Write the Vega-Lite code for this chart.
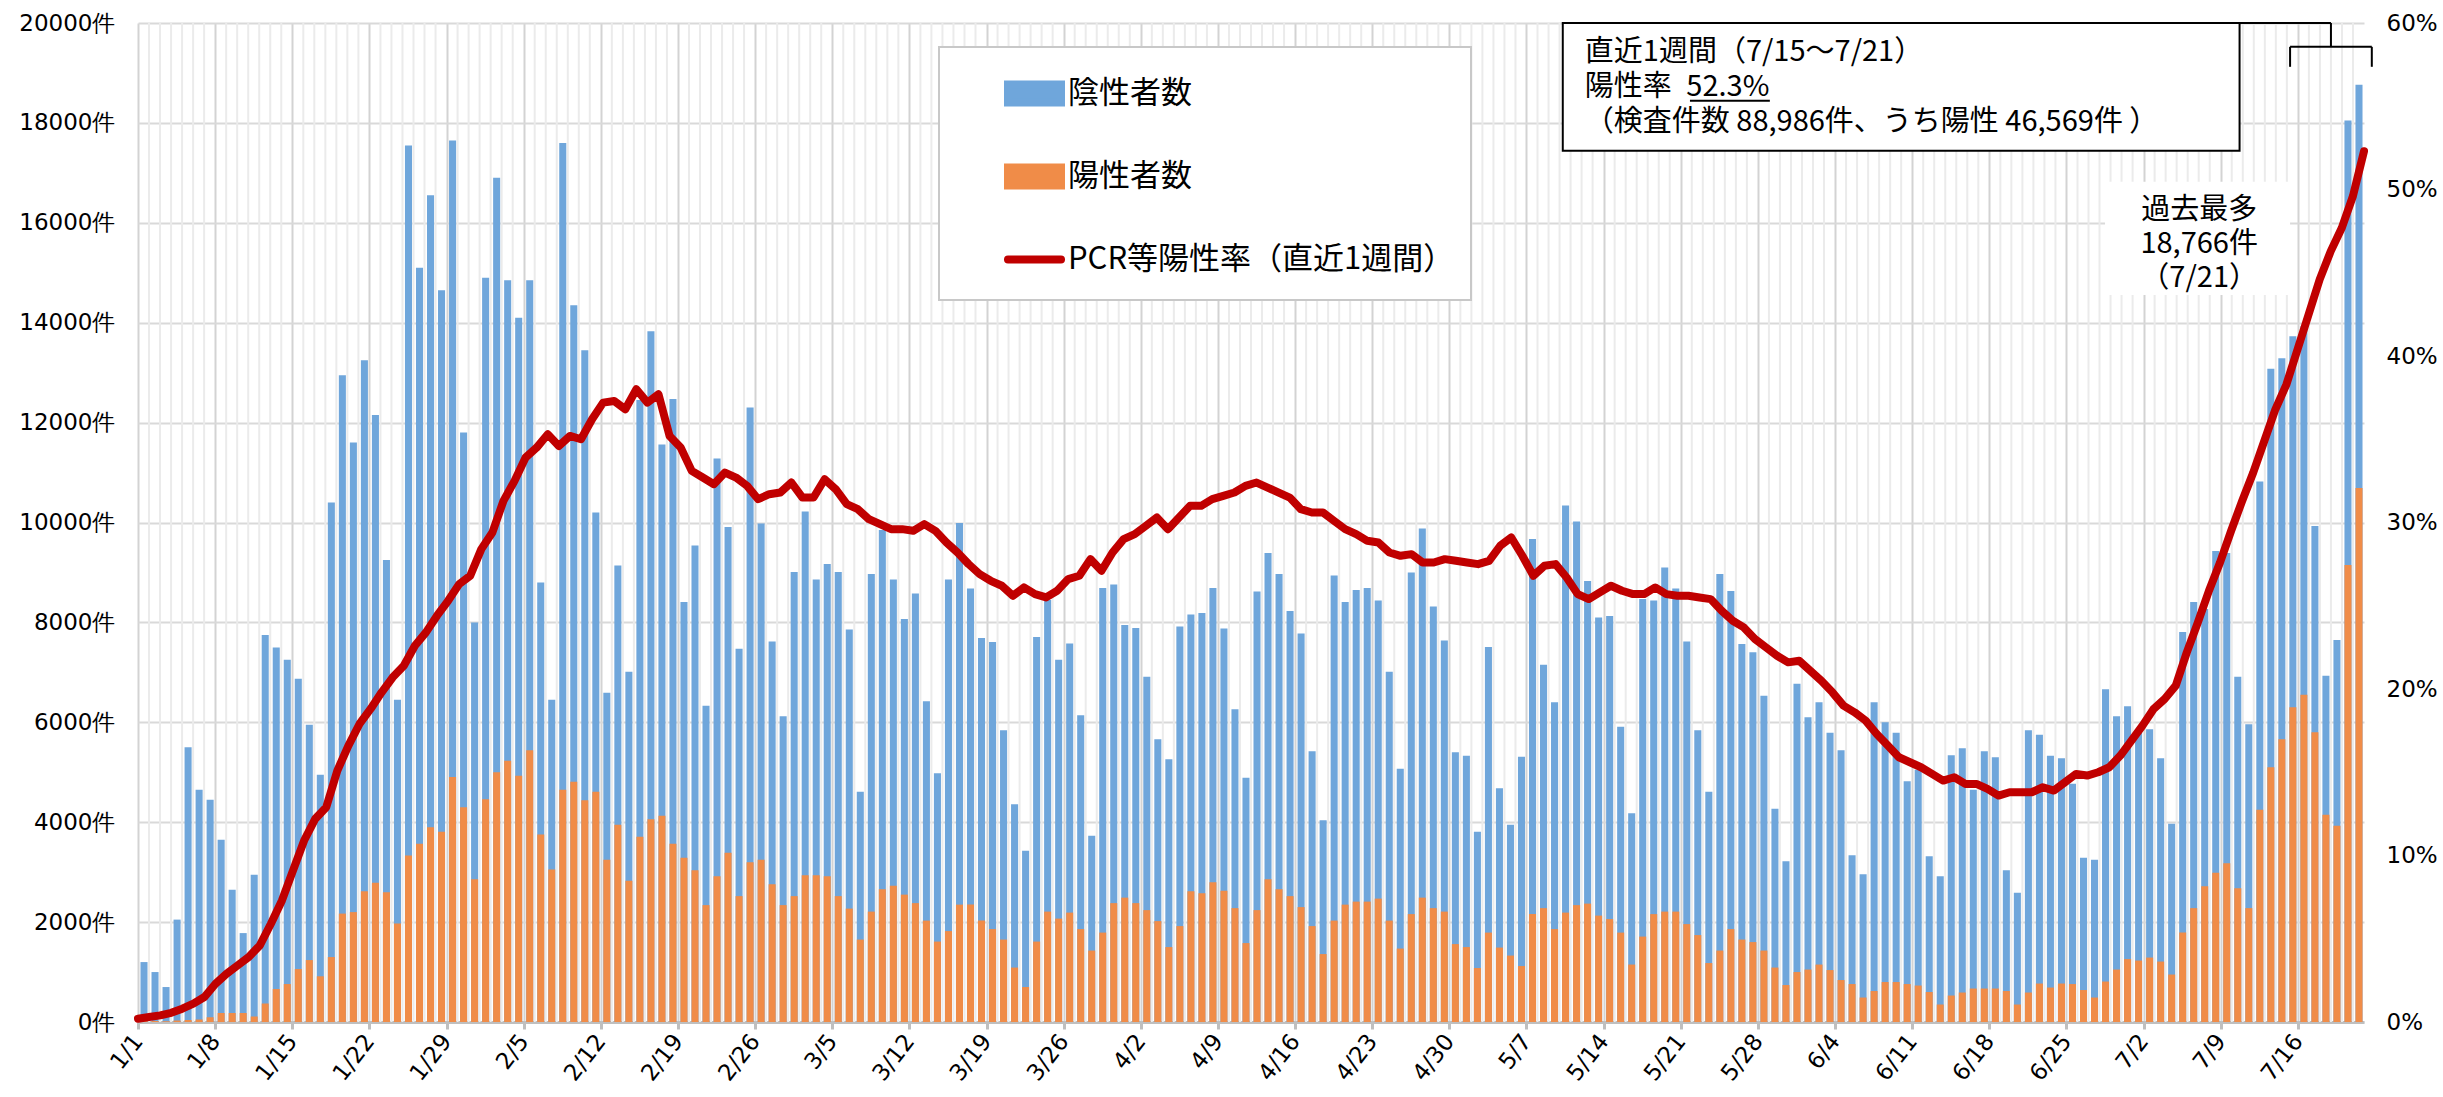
{
"$schema": "https://vega.github.io/schema/vega-lite/v6.json",
"width": 2226, "height": 999,
"autosize": "none",
"padding": {"left": 138, "top": 23, "right": 79, "bottom": 75},
"background": "white",
"config": {"font": "Noto Sans CJK JP", "view": {"stroke": null}},
"datasets": {
"main": [
{"date":"2022-01-01","total":1200,"positive":20,"rate":0.2},
{"date":"2022-01-02","total":1000,"positive":20,"rate":0.3},
{"date":"2022-01-03","total":700,"positive":15,"rate":0.4},
{"date":"2022-01-04","total":2050,"positive":30,"rate":0.55},
{"date":"2022-01-05","total":5500,"positive":40,"rate":0.8},
{"date":"2022-01-06","total":4650,"positive":50,"rate":1.1},
{"date":"2022-01-07","total":4450,"positive":95,"rate":1.5},
{"date":"2022-01-08","total":3650,"positive":180,"rate":2.3},
{"date":"2022-01-09","total":2650,"positive":180,"rate":2.9},
{"date":"2022-01-10","total":1780,"positive":180,"rate":3.4},
{"date":"2022-01-11","total":2950,"positive":110,"rate":3.9},
{"date":"2022-01-12","total":7750,"positive":370,"rate":4.6},
{"date":"2022-01-13","total":7500,"positive":660,"rate":5.9},
{"date":"2022-01-14","total":7250,"positive":760,"rate":7.3},
{"date":"2022-01-15","total":6870,"positive":1060,"rate":9.1},
{"date":"2022-01-16","total":5950,"positive":1240,"rate":10.9},
{"date":"2022-01-17","total":4950,"positive":915,"rate":12.2},
{"date":"2022-01-18","total":10400,"positive":1300,"rate":12.9},
{"date":"2022-01-19","total":12950,"positive":2170,"rate":15.1},
{"date":"2022-01-20","total":11600,"positive":2200,"rate":16.6},
{"date":"2022-01-21","total":13250,"positive":2620,"rate":17.9},
{"date":"2022-01-22","total":12150,"positive":2790,"rate":18.8},
{"date":"2022-01-23","total":9250,"positive":2600,"rate":19.8},
{"date":"2022-01-24","total":6450,"positive":1970,"rate":20.7},
{"date":"2022-01-25","total":17550,"positive":3335,"rate":21.4},
{"date":"2022-01-26","total":15100,"positive":3570,"rate":22.6},
{"date":"2022-01-27","total":16550,"positive":3900,"rate":23.4},
{"date":"2022-01-28","total":14650,"positive":3810,"rate":24.4},
{"date":"2022-01-29","total":17650,"positive":4905,"rate":25.3},
{"date":"2022-01-30","total":11800,"positive":4300,"rate":26.3},
{"date":"2022-01-31","total":8000,"positive":2860,"rate":26.8},
{"date":"2022-02-01","total":14900,"positive":4460,"rate":28.4},
{"date":"2022-02-02","total":16900,"positive":5000,"rate":29.4},
{"date":"2022-02-03","total":14850,"positive":5230,"rate":31.3},
{"date":"2022-02-04","total":14100,"positive":4930,"rate":32.5},
{"date":"2022-02-05","total":14850,"positive":5440,"rate":33.9},
{"date":"2022-02-06","total":8800,"positive":3755,"rate":34.5},
{"date":"2022-02-07","total":6450,"positive":3055,"rate":35.3},
{"date":"2022-02-08","total":17600,"positive":4650,"rate":34.6},
{"date":"2022-02-09","total":14350,"positive":4810,"rate":35.2},
{"date":"2022-02-10","total":13450,"positive":4440,"rate":35.0},
{"date":"2022-02-11","total":10200,"positive":4610,"rate":36.2},
{"date":"2022-02-12","total":6590,"positive":3250,"rate":37.2},
{"date":"2022-02-13","total":9140,"positive":3950,"rate":37.3},
{"date":"2022-02-14","total":7010,"positive":2830,"rate":36.8},
{"date":"2022-02-15","total":12450,"positive":3710,"rate":38.0},
{"date":"2022-02-16","total":13830,"positive":4060,"rate":37.2},
{"date":"2022-02-17","total":11560,"positive":4130,"rate":37.7},
{"date":"2022-02-18","total":12470,"positive":3570,"rate":35.2},
{"date":"2022-02-19","total":8410,"positive":3290,"rate":34.5},
{"date":"2022-02-20","total":9540,"positive":3040,"rate":33.1},
{"date":"2022-02-21","total":6330,"positive":2340,"rate":32.7},
{"date":"2022-02-22","total":11280,"positive":2920,"rate":32.3},
{"date":"2022-02-23","total":9910,"positive":3390,"rate":33.0},
{"date":"2022-02-24","total":7470,"positive":2520,"rate":32.7},
{"date":"2022-02-25","total":12300,"positive":3200,"rate":32.2},
{"date":"2022-02-26","total":9980,"positive":3250,"rate":31.4},
{"date":"2022-02-27","total":7620,"positive":2760,"rate":31.7},
{"date":"2022-02-28","total":6120,"positive":2340,"rate":31.8},
{"date":"2022-03-01","total":9010,"positive":2520,"rate":32.4},
{"date":"2022-03-02","total":10220,"positive":2940,"rate":31.5},
{"date":"2022-03-03","total":8860,"positive":2940,"rate":31.5},
{"date":"2022-03-04","total":9170,"positive":2920,"rate":32.6},
{"date":"2022-03-05","total":9010,"positive":2520,"rate":32.0},
{"date":"2022-03-06","total":7860,"positive":2270,"rate":31.1},
{"date":"2022-03-07","total":4610,"positive":1650,"rate":30.8},
{"date":"2022-03-08","total":8970,"positive":2210,"rate":30.2},
{"date":"2022-03-09","total":9850,"positive":2660,"rate":29.9},
{"date":"2022-03-10","total":8860,"positive":2730,"rate":29.6},
{"date":"2022-03-11","total":8070,"positive":2550,"rate":29.6},
{"date":"2022-03-12","total":8580,"positive":2380,"rate":29.5},
{"date":"2022-03-13","total":6420,"positive":2030,"rate":29.9},
{"date":"2022-03-14","total":4980,"positive":1610,"rate":29.5},
{"date":"2022-03-15","total":8860,"positive":1820,"rate":28.8},
{"date":"2022-03-16","total":9990,"positive":2350,"rate":28.2},
{"date":"2022-03-17","total":8680,"positive":2350,"rate":27.5},
{"date":"2022-03-18","total":7690,"positive":2030,"rate":26.9},
{"date":"2022-03-19","total":7610,"positive":1860,"rate":26.5},
{"date":"2022-03-20","total":5840,"positive":1650,"rate":26.2},
{"date":"2022-03-21","total":4360,"positive":1090,"rate":25.6},
{"date":"2022-03-22","total":3430,"positive":700,"rate":26.1},
{"date":"2022-03-23","total":7710,"positive":1610,"rate":25.7},
{"date":"2022-03-24","total":8450,"positive":2210,"rate":25.5},
{"date":"2022-03-25","total":7250,"positive":2070,"rate":25.9},
{"date":"2022-03-26","total":7580,"positive":2190,"rate":26.6},
{"date":"2022-03-27","total":6140,"positive":1860,"rate":26.8},
{"date":"2022-03-28","total":3730,"positive":1430,"rate":27.8},
{"date":"2022-03-29","total":8690,"positive":1790,"rate":27.1},
{"date":"2022-03-30","total":8760,"positive":2380,"rate":28.2},
{"date":"2022-03-31","total":7950,"positive":2490,"rate":29.0},
{"date":"2022-04-01","total":7890,"positive":2380,"rate":29.3},
{"date":"2022-04-02","total":6910,"positive":2240,"rate":29.8},
{"date":"2022-04-03","total":5660,"positive":2020,"rate":30.3},
{"date":"2022-04-04","total":5260,"positive":1500,"rate":29.6},
{"date":"2022-04-05","total":7920,"positive":1920,"rate":30.3},
{"date":"2022-04-06","total":8160,"positive":2620,"rate":31.0},
{"date":"2022-04-07","total":8190,"positive":2580,"rate":31.0},
{"date":"2022-04-08","total":8690,"positive":2800,"rate":31.4},
{"date":"2022-04-09","total":7880,"positive":2630,"rate":31.6},
{"date":"2022-04-10","total":6260,"positive":2280,"rate":31.8},
{"date":"2022-04-11","total":4890,"positive":1580,"rate":32.2},
{"date":"2022-04-12","total":8620,"positive":2240,"rate":32.4},
{"date":"2022-04-13","total":9390,"positive":2860,"rate":32.1},
{"date":"2022-04-14","total":8970,"positive":2660,"rate":31.8},
{"date":"2022-04-15","total":8230,"positive":2520,"rate":31.5},
{"date":"2022-04-16","total":7780,"positive":2300,"rate":30.8},
{"date":"2022-04-17","total":5420,"positive":1920,"rate":30.6},
{"date":"2022-04-18","total":4040,"positive":1360,"rate":30.6},
{"date":"2022-04-19","total":8940,"positive":2030,"rate":30.1},
{"date":"2022-04-20","total":8410,"positive":2350,"rate":29.6},
{"date":"2022-04-21","total":8650,"positive":2410,"rate":29.3},
{"date":"2022-04-22","total":8690,"positive":2410,"rate":28.9},
{"date":"2022-04-23","total":8440,"positive":2470,"rate":28.8},
{"date":"2022-04-24","total":7010,"positive":2030,"rate":28.2},
{"date":"2022-04-25","total":5070,"positive":1470,"rate":28.0},
{"date":"2022-04-26","total":9000,"positive":2160,"rate":28.1},
{"date":"2022-04-27","total":9880,"positive":2490,"rate":27.6},
{"date":"2022-04-28","total":8320,"positive":2280,"rate":27.6},
{"date":"2022-04-29","total":7640,"positive":2210,"rate":27.8},
{"date":"2022-04-30","total":5400,"positive":1560,"rate":27.7},
{"date":"2022-05-01","total":5330,"positive":1500,"rate":27.6},
{"date":"2022-05-02","total":3810,"positive":1080,"rate":27.5},
{"date":"2022-05-03","total":7510,"positive":1790,"rate":27.7},
{"date":"2022-05-04","total":4680,"positive":1490,"rate":28.6},
{"date":"2022-05-05","total":3950,"positive":1330,"rate":29.1},
{"date":"2022-05-06","total":5310,"positive":1120,"rate":28.0},
{"date":"2022-05-07","total":9670,"positive":2160,"rate":26.8},
{"date":"2022-05-08","total":7150,"positive":2280,"rate":27.4},
{"date":"2022-05-09","total":6400,"positive":1860,"rate":27.5},
{"date":"2022-05-10","total":10340,"positive":2190,"rate":26.7},
{"date":"2022-05-11","total":10020,"positive":2340,"rate":25.7},
{"date":"2022-05-12","total":8830,"positive":2370,"rate":25.4},
{"date":"2022-05-13","total":8100,"positive":2130,"rate":25.8},
{"date":"2022-05-14","total":8130,"positive":2060,"rate":26.2},
{"date":"2022-05-15","total":5910,"positive":1790,"rate":25.9},
{"date":"2022-05-16","total":4180,"positive":1150,"rate":25.7},
{"date":"2022-05-17","total":8470,"positive":1710,"rate":25.7},
{"date":"2022-05-18","total":8440,"positive":2160,"rate":26.1},
{"date":"2022-05-19","total":9100,"positive":2210,"rate":25.7},
{"date":"2022-05-20","total":8680,"positive":2210,"rate":25.6},
{"date":"2022-05-21","total":7620,"positive":1960,"rate":25.6},
{"date":"2022-05-22","total":5840,"positive":1740,"rate":25.5},
{"date":"2022-05-23","total":4610,"positive":1180,"rate":25.4},
{"date":"2022-05-24","total":8970,"positive":1430,"rate":24.7},
{"date":"2022-05-25","total":8630,"positive":1860,"rate":24.1},
{"date":"2022-05-26","total":7570,"positive":1650,"rate":23.7},
{"date":"2022-05-27","total":7400,"positive":1600,"rate":23.0},
{"date":"2022-05-28","total":6530,"positive":1430,"rate":22.5},
{"date":"2022-05-29","total":4270,"positive":1090,"rate":22.0},
{"date":"2022-05-30","total":3220,"positive":740,"rate":21.6},
{"date":"2022-05-31","total":6770,"positive":1000,"rate":21.7},
{"date":"2022-06-01","total":6100,"positive":1050,"rate":21.1},
{"date":"2022-06-02","total":6400,"positive":1150,"rate":20.5},
{"date":"2022-06-03","total":5790,"positive":1040,"rate":19.8},
{"date":"2022-06-04","total":5440,"positive":840,"rate":19.0},
{"date":"2022-06-05","total":3340,"positive":760,"rate":18.6},
{"date":"2022-06-06","total":2960,"positive":490,"rate":18.1},
{"date":"2022-06-07","total":6400,"positive":620,"rate":17.3},
{"date":"2022-06-08","total":6000,"positive":800,"rate":16.6},
{"date":"2022-06-09","total":5790,"positive":800,"rate":15.9},
{"date":"2022-06-10","total":4820,"positive":760,"rate":15.6},
{"date":"2022-06-11","total":5050,"positive":730,"rate":15.3},
{"date":"2022-06-12","total":3320,"positive":600,"rate":14.9},
{"date":"2022-06-13","total":2920,"positive":350,"rate":14.5},
{"date":"2022-06-14","total":5340,"positive":530,"rate":14.7},
{"date":"2022-06-15","total":5480,"positive":590,"rate":14.3},
{"date":"2022-06-16","total":4650,"positive":670,"rate":14.3},
{"date":"2022-06-17","total":5420,"positive":670,"rate":14.0},
{"date":"2022-06-18","total":5300,"positive":670,"rate":13.6},
{"date":"2022-06-19","total":3040,"positive":620,"rate":13.8},
{"date":"2022-06-20","total":2590,"positive":350,"rate":13.8},
{"date":"2022-06-21","total":5840,"positive":590,"rate":13.8},
{"date":"2022-06-22","total":5750,"positive":770,"rate":14.1},
{"date":"2022-06-23","total":5330,"positive":690,"rate":13.9},
{"date":"2022-06-24","total":5280,"positive":770,"rate":14.4},
{"date":"2022-06-25","total":4770,"positive":760,"rate":14.9},
{"date":"2022-06-26","total":3290,"positive":640,"rate":14.8},
{"date":"2022-06-27","total":3250,"positive":490,"rate":15.0},
{"date":"2022-06-28","total":6660,"positive":810,"rate":15.3},
{"date":"2022-06-29","total":6120,"positive":1050,"rate":16.0},
{"date":"2022-06-30","total":6320,"positive":1260,"rate":16.9},
{"date":"2022-07-01","total":5790,"positive":1230,"rate":17.8},
{"date":"2022-07-02","total":5860,"positive":1290,"rate":18.8},
{"date":"2022-07-03","total":5280,"positive":1210,"rate":19.4},
{"date":"2022-07-04","total":3970,"positive":950,"rate":20.2},
{"date":"2022-07-05","total":7810,"positive":1790,"rate":22.2},
{"date":"2022-07-06","total":8410,"positive":2280,"rate":24.0},
{"date":"2022-07-07","total":8270,"positive":2720,"rate":25.9},
{"date":"2022-07-08","total":9430,"positive":2990,"rate":27.6},
{"date":"2022-07-09","total":9390,"positive":3180,"rate":29.5},
{"date":"2022-07-10","total":6910,"positive":2680,"rate":31.3},
{"date":"2022-07-11","total":5960,"positive":2280,"rate":33.0},
{"date":"2022-07-12","total":10820,"positive":4250,"rate":34.9},
{"date":"2022-07-13","total":13080,"positive":5100,"rate":36.8},
{"date":"2022-07-14","total":13290,"positive":5660,"rate":38.3},
{"date":"2022-07-15","total":13730,"positive":6300,"rate":40.4},
{"date":"2022-07-16","total":13930,"positive":6550,"rate":42.5},
{"date":"2022-07-17","total":9930,"positive":5800,"rate":44.6},
{"date":"2022-07-18","total":6930,"positive":4150,"rate":46.3},
{"date":"2022-07-19","total":7650,"positive":3930,"rate":47.7},
{"date":"2022-07-20","total":18050,"positive":9150,"rate":49.6},
{"date":"2022-07-21","total":18766,"positive":10689,"rate":52.3}
]
},
"layer": [
{
"layer": [
{
"data": {"name": "main"},
"transform": [{"filter": "utcday(datum.date) !== 6"}],
"mark": {"type": "rule", "color": "#EBEBEB", "strokeWidth": 2},
"encoding": {
"x": {"field": "date", "type": "temporal", "scale": {"type": "utc"}}
}
},
{
"data": {"name": "main"},
"mark": {"type": "bar", "width": {"band": 0.73}},
"encoding": {
"x": {"field": "date", "type": "temporal", "timeUnit": "utcyearmonthdate",
"scale": {"type": "utc", "domain": [{"year": 2022, "month": 1, "date": 1, "utc": true}, {"year": 2022, "month": 7, "date": 22, "utc": true}]},
"axis": {
"title": null, "format": "%-m/%-d", "formatType": "time",
"values": [
{"year":2022,"month":1,"date":1,"utc":true},{"year":2022,"month":1,"date":8,"utc":true},{"year":2022,"month":1,"date":15,"utc":true},{"year":2022,"month":1,"date":22,"utc":true},{"year":2022,"month":1,"date":29,"utc":true},
{"year":2022,"month":2,"date":5,"utc":true},{"year":2022,"month":2,"date":12,"utc":true},{"year":2022,"month":2,"date":19,"utc":true},{"year":2022,"month":2,"date":26,"utc":true},
{"year":2022,"month":3,"date":5,"utc":true},{"year":2022,"month":3,"date":12,"utc":true},{"year":2022,"month":3,"date":19,"utc":true},{"year":2022,"month":3,"date":26,"utc":true},
{"year":2022,"month":4,"date":2,"utc":true},{"year":2022,"month":4,"date":9,"utc":true},{"year":2022,"month":4,"date":16,"utc":true},{"year":2022,"month":4,"date":23,"utc":true},{"year":2022,"month":4,"date":30,"utc":true},
{"year":2022,"month":5,"date":7,"utc":true},{"year":2022,"month":5,"date":14,"utc":true},{"year":2022,"month":5,"date":21,"utc":true},{"year":2022,"month":5,"date":28,"utc":true},
{"year":2022,"month":6,"date":4,"utc":true},{"year":2022,"month":6,"date":11,"utc":true},{"year":2022,"month":6,"date":18,"utc":true},{"year":2022,"month":6,"date":25,"utc":true},
{"year":2022,"month":7,"date":2,"utc":true},{"year":2022,"month":7,"date":9,"utc":true},{"year":2022,"month":7,"date":16,"utc":true}
],
"labelAngle": -52, "labelFont": "DejaVu Sans", "labelFontSize": 23, "labelColor": "#000000", "labelPadding": 8,
"labelOverlap": false, "labelFlush": false, "labelBound": false,
"domainColor": "#BFBFBF", "domainWidth": 3, "tickColor": "#BFBFBF", "tickWidth": 3, "tickSize": 7,
"grid": true, "gridColor": "#D3D3D3", "gridWidth": 2
}
},
"y": {"field": "total", "type": "quantitative",
"scale": {"domain": [0, 20000], "nice": false},
"axis": {"title": null, "values": [0,2000,4000,6000,8000,10000,12000,14000,16000,18000,20000],
"labelExpr": "datum.value + '件'", "ticks": false, "domain": false, "labelPadding": 23,
"labelFont": "DejaVu Sans", "labelFontSize": 23, "labelColor": "#000000", "grid": true, "gridColor": "#D9D9D9", "gridWidth": 2}
},
"color": {"datum": "陰性者数", "type": "nominal",
"scale": {"domain": ["陰性者数", "陽性者数", "PCR等陽性率（直近1週間）"], "range": ["#6FA6DB", "#F08C48", "#C00000"]},
"legend": {
"orient": "none", "legendX": 801, "legendY": 24,
"title": "\u3000", "titleOrient": "bottom", "titleFontSize": 8, "titlePadding": 0,
"padding": 16, "rowPadding": 27,
"symbolSize": 2809, "symbolOffset": 49, "labelOffset": 3, "symbolStrokeWidth": 8,
"labelFontSize": 31, "labelColor": "#000000", "labelLimit": 800,
"labelExpr": "datum.label === 'PCR等陽性率（直近1週間）' ? datum.label + '\u3000\u2002' : datum.label",
"strokeColor": "#C8C8C8", "fillColor": "#FFFFFF",
"encode": {
"legend": {"update": {"strokeWidth": {"value": 2}}},
"symbols": {"update": {
"shape": {"signal": "datum.value === 'PCR等陽性率（直近1週間）' ? 'stroke' : 'M-1,-0.34H1V0.34H-1Z'"},
"fill": {"signal": "datum.value === '陰性者数' ? '#6FA6DB' : datum.value === '陽性者数' ? '#F08C48' : 'transparent'"},
"stroke": {"signal": "datum.value === 'PCR等陽性率（直近1週間）' ? '#C00000' : 'transparent'"},
"strokeWidth": {"value": 8},
"strokeCap": {"value": "round"},
"opacity": {"value": 1}, "fillOpacity": {"value": 1}, "strokeOpacity": {"value": 1}
}}
}
}
}
}
},
{
"data": {"name": "main"},
"mark": {"type": "bar", "width": {"band": 0.73}},
"encoding": {
"x": {"field": "date", "type": "temporal", "timeUnit": "utcyearmonthdate"},
"y": {"field": "positive", "type": "quantitative"},
"color": {"datum": "陽性者数", "type": "nominal"}
}
},
{
"data": {"values": [{"x1": "2022-05-10T07:00:00Z", "x2": "2022-07-10T17:00:00Z", "y1": 17440, "y2": 20000}]},
"mark": {"type": "rect", "fill": "#FFFFFF", "stroke": "#000000", "strokeWidth": 2},
"encoding": {
"x": {"field": "x1", "type": "temporal"}, "x2": {"field": "x2"},
"y": {"field": "y1", "type": "quantitative"}, "y2": {"field": "y2"}
}
},
{
"data": {"values": [
{"x": "2022-05-12T07:00:00Z", "y": 19423, "label": "直近1週間（7/15～7/21）\n陽性率\u200252.3%\n（検査件数 88,986件、うち陽性 46,569件 ）"}
]},
"mark": {"type": "text", "align": "left", "baseline": "middle", "fontSize": 29, "lineHeight": 35, "lineBreak": "\n", "color": "#000000"},
"encoding": {
"x": {"field": "x", "type": "temporal"},
"y": {"field": "y", "type": "quantitative"},
"text": {"field": "label"}
}
},
{
"data": {"values": [
{"x1": "2022-05-21T20:00:00Z", "x2": "2022-05-29T02:00:00Z", "y1": 18442, "y2": 18442},
{"x1": "2022-07-10T17:00:00Z", "x2": "2022-07-19T00:00:00Z", "y1": 20000, "y2": 20000},
{"x1": "2022-07-19T00:00:00Z", "x2": "2022-07-19T00:00:00Z", "y1": 19523, "y2": 20000},
{"x1": "2022-07-15T07:00:00Z", "x2": "2022-07-22T17:00:00Z", "y1": 19523, "y2": 19523},
{"x1": "2022-07-15T07:00:00Z", "x2": "2022-07-15T07:00:00Z", "y1": 19123, "y2": 19523},
{"x1": "2022-07-22T17:00:00Z", "x2": "2022-07-22T17:00:00Z", "y1": 19123, "y2": 19523}
]},
"mark": {"type": "rule", "color": "#000000", "strokeWidth": 2},
"encoding": {
"x": {"field": "x1", "type": "temporal"}, "x2": {"field": "x2"},
"y": {"field": "y1", "type": "quantitative"}, "y2": {"field": "y2"}
}
},
{
"data": {"values": [{"x1": "2022-06-28T12:00:00Z", "x2": "2022-07-15T07:00:00Z", "y1": 14556, "y2": 16820}]},
"mark": {"type": "rect", "fill": "#FFFFFF", "stroke": null},
"encoding": {
"x": {"field": "x1", "type": "temporal"}, "x2": {"field": "x2"},
"y": {"field": "y1", "type": "quantitative"}, "y2": {"field": "y2"}
}
},
{
"data": {"values": [
{"x": "2022-07-07T01:00:00Z", "y": 16258, "label": "過去最多\n18,766件\n（7/21）"}
]},
"mark": {"type": "text", "align": "center", "baseline": "middle", "fontSize": 29, "lineHeight": 34, "lineBreak": "\n", "color": "#000000"},
"encoding": {
"x": {"field": "x", "type": "temporal"},
"y": {"field": "y", "type": "quantitative"},
"text": {"field": "label"}
}
}
]
},
{
"data": {"name": "main"},
"mark": {"type": "line", "strokeWidth": 8, "strokeJoin": "round", "strokeCap": "round"},
"encoding": {
"x": {"field": "date", "type": "temporal",
"scale": {"type": "utc", "domain": [{"year": 2022, "month": 1, "date": 1, "utc": true}, {"year": 2022, "month": 7, "date": 21, "utc": true}]},
"axis": null},
"y": {"field": "rate", "type": "quantitative",
"scale": {"domain": [0, 60], "nice": false},
"axis": {"orient": "right", "title": null, "values": [0,10,20,30,40,50,60], "labelExpr": "datum.value + '%'",
"ticks": false, "domain": false, "grid": false, "labelPadding": 22, "labelFont": "DejaVu Sans", "labelFontSize": 23, "labelColor": "#000000"}},
"color": {"datum": "PCR等陽性率（直近1週間）", "type": "nominal"}
}
}
],
"resolve": {"scale": {"x": "independent", "y": "independent", "color": "shared"}}
}
